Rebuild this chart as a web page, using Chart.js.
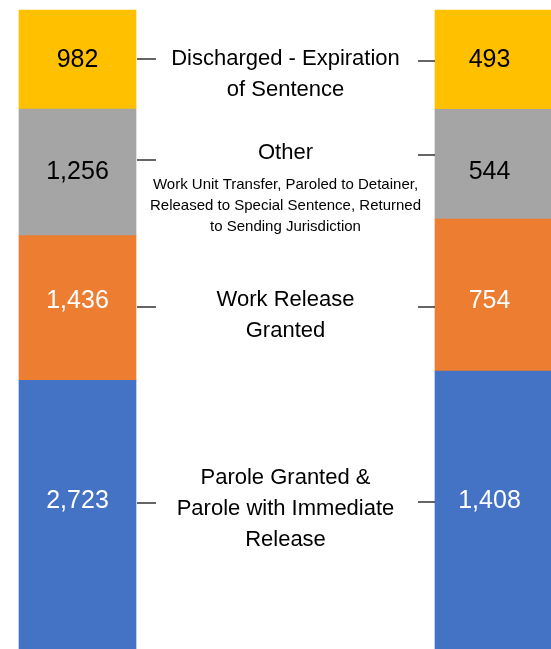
<!DOCTYPE html>
<html>
<head>
<meta charset="utf-8">
<script src="https://cdn.jsdelivr.net/npm/chart.js@4/dist/chart.umd.min.js"></script>
<style>
  html, body { margin:0; padding:0; background:#fff; overflow:hidden; font-family: Arial, "Liberation Sans", sans-serif; }
  #wrap { position:relative; width:551px; height:660px; }
</style>
</head>
<body>
<div id="wrap"><canvas id="myChart"></canvas></div>
<script>
// two bars, values per release type (not labelled in the picture)
const periods = ['Period 1', 'Period 2'];
const discharged = [982, 493];
const other = [1256, 544];
const workRelease = [1436, 754];
const parole = [2723, 1408];

const colors = ['#4472C4', '#ED7D31', '#A5A5A5', '#FFC000'];
const valueColors = ['#ffffff', '#ffffff', '#000000', '#000000'];

// bottom to top
const series = [parole, workRelease, other, discharged];
const totals = periods.map((p, i) => series.reduce((s, arr) => s + arr[i], 0));

const FONT = 'Arial, "Liberation Sans", sans-serif';

// row of the numbers in the bars (bottom to top), middle text lines, leader lines
const valueRows = [501, 301, 172, 60];
const midLabels = [
  { big: ['Discharged - Expiration', 'of Sentence'], y: 59, small: [], leftY: 59, rightY: 61 },
  { big: ['Other'], y: 153, small: ['Work Unit Transfer, Paroled to Detainer,', 'Released to Special Sentence, Returned', 'to Sending Jurisdiction'], smallY: 185, leftY: 160, rightY: 155 },
  { big: ['Work Release', 'Granted'], y: 300, small: [], leftY: 307, rightY: 307 },
  { big: ['Parole Granted &', 'Parole with Immediate', 'Release'], y: 478, small: [], leftY: 503, rightY: 502 }
];

const labelPlugin = {
  id: 'labels',
  afterDatasetsDraw(chart) {
    const ctx = chart.ctx;
    ctx.save();
    ctx.textAlign = 'center';
    ctx.textBaseline = 'middle';
    // numbers inside the bars
    ctx.font = '25px ' + FONT;
    chart.data.datasets.forEach((ds, di) => {
      const meta = chart.getDatasetMeta(di);
      meta.data.forEach((bar, i) => {
        ctx.fillStyle = valueColors[di];
        ctx.fillText(series[di][i].toLocaleString('en-US'), bar.x - i * 4, valueRows[di]);
      });
    });
    // middle text
    const left = chart.getDatasetMeta(0).data[0];
    const right = chart.getDatasetMeta(0).data[1];
    const lx = left.x + left.width / 2;
    const rx = right.x - right.width / 2;
    const cx = (lx + rx) / 2;
    ctx.fillStyle = '#000';
    midLabels.forEach(m => {
      ctx.font = '22px ' + FONT;
      m.big.forEach((t, k) => ctx.fillText(t, cx, m.y + k * 31));
      ctx.font = '15px ' + FONT;
      m.small.forEach((t, k) => ctx.fillText(t, cx, m.smallY + k * 21));
      ctx.strokeStyle = '#333';
      ctx.lineWidth = 1.5;
      ctx.beginPath();
      ctx.moveTo(lx + 1, m.leftY); ctx.lineTo(lx + 20, m.leftY);
      ctx.moveTo(rx - 17, m.rightY); ctx.lineTo(rx, m.rightY);
      ctx.stroke();
    });
    ctx.restore();
  }
};

function draw() {
  new Chart(document.getElementById('myChart').getContext('2d'), {
    type: 'bar',
    data: {
      labels: periods,
      datasets: series.map((arr, di) => ({
        label: di,
        data: arr.map((v, i) => v / totals[i] * 100),
        backgroundColor: colors[di],
        borderWidth: 0,
        barThickness: 117,
        clip: false
      }))
    },
    options: {
      responsive: true,
      maintainAspectRatio: false,
      animation: false,
      layout: { padding: { left: 77.5, right: 57.5, top: 10, bottom: 5 } },
      scales: {
        x: { display: false, stacked: true, offset: false },
        y: { display: false, stacked: true, min: 0, max: 100 }
      },
      plugins: {
        legend: { display: false },
        tooltip: { enabled: false }
      }
    },
    plugins: [labelPlugin]
  });
}

document.fonts.load('22px Arial').then(draw, draw);
</script>
</body>
</html>
